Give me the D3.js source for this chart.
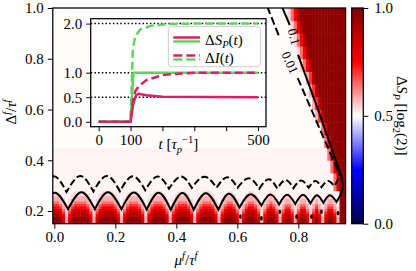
<!DOCTYPE html>
<html>
<head>
<meta charset="utf-8">
<script src="https://cdn.jsdelivr.net/npm/d3@7/dist/d3.min.js"></script>
<style>
  body { margin: 0; background: #ffffff; }
</style>
</head>
<body>
<script>
// Heat map values (Delta S_P in log2 units).
// One string per row of cells, bottom to top. Each digit is an index into
// heatLevels, "c*n" means digit c repeated n times. Columns are mu = 0, 0.01, ...
var heatLevels = [0.503, 0.51, 0.54, 0.58, 0.64, 0.70, 0.76, 0.83, 0.90, 0.97];
var heatColStart = 0, heatColStep = 0.01;
var heatRowEdges = [0.15, 0.16, 0.17, 0.18, 0.19, 0.20, 0.21, 0.22, 0.23, 0.24, 0.25,
    0.26, 0.27, 0.28, 0.29, 0.30, 0.31, 0.32, 0.33, 0.34, 0.35,
    0.375, 0.40, 0.425, 0.45, 0.475, 0.50, 0.525, 0.55, 0.575, 0.60, 0.625, 0.65,
    0.675, 0.70, 0.725, 0.75, 0.775, 0.80, 0.825, 0.85, 0.875, 0.90, 0.925, 0.95, 0.975, 1.0];
var heatRows = [
    "9998 3 89999998 3 89999998 3 8999998 3 8999998 3 8999998 3 8999998 3 899998 3 899998 3 89998 3 8998 3 8998 3 898 3 8998 3 99",
    "9997 3 79999997 3 79999997 3 7999997 3 7999997 3 7999997 3 7999997 3 799997 3 799997 3 79997 3 7997 3 7997 3 797 3 7997 3 99",
    "9987 3 78999987 3 78999987 3 7899987 3 7899987 3 7899987 3 7899987 3 789987 3 789987 3 78987 3 7887 3 7887 3 787 3 7887 3 99",
    "8886 2 68888886 2 68888886 2 6888886 2 6888886 2 6888886 2 6888886 2 688886 2 688886 2 68886 2 6886 2 6886 2 686 2 6886 2 99",
    "8875 2 57888875 2 57888875 2 5788875 2 5788875 2 5788875 2 5788875 2 578875 2 578875 2 57875 2 5775 2 5775 2 575 2 5775 2 99",
    "7764 2 46777764 2 46777764 2 4677764 2 4677764 2 4677764 2 4677764 2 467764 2 467764 2 46764 2 4664 2 4664 2 464 2 4664 2 99",
    "6653 2 35666653 2 35666653 2 3566653 2 3566653 2 3566653 2 3566653 2 356653 2 356653 2 35653 2 3553 2 3553 2 353 2 3553 2 99",
    "5543 1 34555543 1 34555543 1 3455543 1 3455543 1 3455543 1 3455543 1 345543 1 345543 1 34543 1 3443 1 3443 1 343 1 3443 1 99",
    "4432 1 23444432 1 23444432 1 2344432 1 2344432 1 2344432 1 2344432 1 234432 1 234432 1 23432 1 2332 1 2332 1 232 1 2332 1 99",
    "3332 1 23333332 1 23333332 1 2333332 1 2333332 1 2333332 1 2333332 1 233332 1 233332 1 23332 1 2332 1 2332 1 232 1 2332 1 99",
    "3321 1 12333321 1 12333321 1 1233321 1 1233321 1 1233321 1 1233321 1 123321 1 123321 1 12321 1 1221 1 1221 1 121 1 1221 1 99",
    "2221 1 12222221 1 12222221 1 1222221 1 1222221 1 1222221 1 1222221 1 122221 1 122221 1 12221 1 1221 1 1221 1 121 1 1221 1 99",
    "2211 1 11222211 1 11222211 1 1122211 1 1122211 1 1122211 1 1122211 1 112211 1 112211 1 11211 1 1111 1 1111 1 111 1 1111 1 99",
    "1*91 147 9*2", "1*91 147 9*2", "1*91 147 9*2", "1*91 147 9*2",
    "1*91 147 9*2", "1*91 147 9*2", "1*91 147 9*2",
    "1*90 147 9*3", "1*90 147 9*3", "1*89 147 9*4", "1*89 147 9*4",
    "0*88 147 9*5", "0*88 147 9*5", "0*87 147 9*6", "0*87 147 9*6",
    "0*85 1358 9*7", "0*85 1358 9*7", "0*84 1358 9*8", "0*84 1358 9*8",
    "0*83 1358 9*9", "0*83 1358 9*9", "0*82 1358 9*10", "0*82 1358 9*10",
    "0*80 12468 9*11", "0*80 12468 9*11", "0*79 12468 9*12", "0*79 12468 9*12",
    "0*78 12468 9*13", "0*78 12468 9*13", "0*77 12468 9*14", "0*77 12468 9*14",
    "0*76 12468 9*15", "0*76 12468 9*15"
];

// Contour lines as [mu, Delta]: band arches alternate cusp / top
var solidBand = [[-0.043, 0.207], [0.001, 0.272], [0.045, 0.207], [0.089, 0.274], [0.133, 0.207],
    [0.176, 0.274], [0.220, 0.207], [0.261, 0.273], [0.303, 0.206], [0.342, 0.272], [0.382, 0.205],
    [0.420, 0.271], [0.457, 0.205], [0.497, 0.270], [0.538, 0.205], [0.572, 0.268], [0.607, 0.214],
    [0.643, 0.266], [0.679, 0.222], [0.708, 0.265], [0.737, 0.226], [0.763, 0.264], [0.790, 0.228],
    [0.815, 0.264], [0.840, 0.230], [0.861, 0.262], [0.882, 0.232], [0.903, 0.262], [0.925, 0.236],
    [0.941, 0.270], [0.947, 0.300]];
var dashBand = [[-0.047, 0.275], [-0.002, 0.337], [0.040, 0.275], [0.085, 0.338], [0.128, 0.277],
    [0.172, 0.338], [0.215, 0.278], [0.257, 0.337], [0.298, 0.282], [0.338, 0.336], [0.376, 0.288],
    [0.415, 0.336], [0.451, 0.291], [0.492, 0.335], [0.532, 0.292], [0.567, 0.333], [0.601, 0.292],
    [0.638, 0.329], [0.672, 0.288], [0.703, 0.325], [0.731, 0.288], [0.758, 0.322], [0.784, 0.290],
    [0.809, 0.320], [0.834, 0.292], [0.856, 0.318], [0.876, 0.294], [0.897, 0.318], [0.918, 0.298],
    [0.930, 0.325], [0.934, 0.345]];
var solidDiag = [[[0.746, 1.006], [0.772, 0.933]],
    [[0.799, 0.815], [0.859, 0.618], [0.913, 0.434], [0.941, 0.335], [0.947, 0.300]]];
var dashDiag = [[[0.698, 1.006], [0.739, 0.882]],
    [[0.798, 0.724], [0.903, 0.433], [0.929, 0.360], [0.934, 0.345]]];
var contourDots = [[0.610, 0.178], [0.679, 0.171], [0.739, 0.197], [0.794, 0.178],
    [0.843, 0.178], [0.876, 0.197], [0.930, 0.191]];
var contourLabels = ["0.1", "0.01"];
var contourLabelMu = [0.786, 0.773];
var contourLabelDelta = [0.887, 0.785];

// main axes and colour bar ticks
var xTicks = [0, 0.2, 0.4, 0.6, 0.8];
var yTicks = [0.2, 0.4, 0.6, 0.8, 1.0];
var colorbarTicks = [0, 0.5, 1.0];

// inset: time traces
var insetXTicks = [0, 100, 200, 300, 400, 500];
var insetXLabels = ["0", "100", "", "", "", "500"];
var insetYTicks = [0, 0.5, 1.0, 2.0];
var insetGuides = [0.5, 1.0, 2.0];
var tSpPink = [0, 100, 108, 117, 125, 150, 200, 500];
var spPink = [0, 0, 0.35, 0.54, 0.57, 0.54, 0.51, 0.50];
var tSpGreen = [0, 100, 109, 500];
var spGreen = [0, 0, 1.0, 1.0];
var tIPink = [0, 100, 108, 115, 125, 150, 200, 250, 300, 400, 500];
var iPink = [0, 0, 0.45, 0.62, 0.72, 0.85, 0.95, 0.98, 1.0, 1.0, 1.0];
var tIGreen = [0, 100, 104, 107, 114, 130, 162, 215, 300, 500];
var iGreen = [0, 0, 0.8, 1.46, 1.73, 1.88, 1.95, 1.99, 2.0, 2.0];

var pink = "#dc1e64", green = "#5fd35f";

function mathText(textSel, parts, size) {
    // simple super/subscripts with tspans
    var cur = 0;
    parts.forEach(function (p) {
        var shift = p.sup ? -0.4 * size : (p.sub ? 0.25 * size : 0);
        textSel.append("tspan")
            .attr("dy", shift - cur)
            .attr("font-size", (p.sup || p.sub) ? size * 0.7 : size)
            .attr("font-style", p.it ? "italic" : "normal")
            .text(p.t);
        cur = shift;
    });
}

function drawChart() {
    var width = 416, height = 271;
    var left = 52.8, right = 345.6, top = 8, bottom = 223.7;
    var fs = 15;
    var serif = "'Liberation Serif', 'DejaVu Serif', serif";

    var svg = d3.select("body").append("svg")
        .attr("width", width).attr("height", height)
        .attr("font-family", serif);

    var x = d3.scaleLinear().domain([-0.005, 0.955]).range([left, right]);
    var y = d3.scaleLinear().domain([0.15, 1.0]).range([bottom, top]);
    // matplotlib "seismic"
    var color = d3.scaleLinear().domain([0, 0.25, 0.5, 0.75, 1])
        .range(["#00004d", "#0000ff", "#ffffff", "#ff0000", "#800000"]);

    var defs = svg.append("defs");
    defs.append("clipPath").attr("id", "plotArea").append("rect")
        .attr("x", left).attr("y", top).attr("width", right - left).attr("height", bottom - top);

    var plotGroup = svg.append("g").attr("clip-path", "url(#plotArea)");

    // heat map cells
    var cells = [];
    heatRows.forEach(function (row, r) {
        var levels = [];
        row.split(" ").forEach(function (tok) {
            var i;
            if (tok.indexOf("*") > 0) {
                var p = tok.split("*");
                for (i = 0; i < +p[1]; i++) levels.push(+p[0]);
            } else {
                for (i = 0; i < tok.length; i++) levels.push(+tok[i]);
            }
        });
        levels.forEach(function (lv, j) {
            var mu = heatColStart + j * heatColStep;
            cells.push({ mu0: mu - heatColStep / 2, mu1: mu + heatColStep / 2,
                d0: heatRowEdges[r], d1: heatRowEdges[r + 1], value: heatLevels[lv] });
        });
    });
    plotGroup.selectAll("rect.cell").data(cells).enter()
        .append("rect")
        .attr("class", "cell")
        .attr("x", function (d) { return x(d.mu0); })
        .attr("y", function (d) { return y(d.d1); })
        .attr("width", function (d) { return x(d.mu1) - x(d.mu0) + 0.5; })
        .attr("height", function (d) { return y(d.d0) - y(d.d1) + 0.5; })
        .attr("fill", function (d) { return color(d.value); });

    // contour lines
    var archLine = d3.line()
        .x(function (d) { return x(d[0]); })
        .y(function (d) { return y(d[1]); })
        .curve(d3.curveNatural);
    var plainLine = d3.line()
        .x(function (d) { return x(d[0]); })
        .y(function (d) { return y(d[1]); });
    function archPath(pts) {
        var s = "";
        for (var i = 0; i + 2 < pts.length; i += 2) {
            var piece = archLine([pts[i], pts[i + 1], pts[i + 2]]);
            s += i ? piece.replace(/^M[^C]*/, "") : piece;
        }
        return s;
    }
    plotGroup.append("path").attr("d", archPath(solidBand))
        .attr("fill", "none").attr("stroke", "#000").attr("stroke-width", 2);
    plotGroup.append("path").attr("d", archPath(dashBand))
        .attr("fill", "none").attr("stroke", "#000").attr("stroke-width", 2)
        .attr("stroke-dasharray", "7,3");
    plotGroup.selectAll("path.sdiag").data(solidDiag).enter().append("path")
        .attr("class", "sdiag").attr("d", plainLine)
        .attr("fill", "none").attr("stroke", "#000").attr("stroke-width", 2);
    plotGroup.selectAll("path.ddiag").data(dashDiag).enter().append("path")
        .attr("class", "ddiag").attr("d", plainLine)
        .attr("fill", "none").attr("stroke", "#000").attr("stroke-width", 2)
        .attr("stroke-dasharray", "8,3.5");
    plotGroup.selectAll("ellipse.dot").data(contourDots).enter().append("ellipse")
        .attr("class", "dot")
        .attr("cx", function (d) { return x(d[0]); })
        .attr("cy", function (d) { return y(d[1]); })
        .attr("rx", 1.3).attr("ry", 2.3).attr("fill", "#000");
    var labelAngles = [74, 66];
    contourLabels.forEach(function (txt, i) {
        plotGroup.append("text")
            .attr("transform", "translate(" + x(contourLabelMu[i]) + "," + y(contourLabelDelta[i]) + ") rotate(" + labelAngles[i] + ")")
            .attr("text-anchor", "middle").attr("dy", "0.35em")
            .attr("font-size", 13).text(txt);
    });

    // main axes
    var xAxis = d3.axisBottom(x).tickValues(xTicks).tickFormat(d3.format(".1f"))
        .tickSize(5).tickSizeOuter(0).tickPadding(3);
    var yAxis = d3.axisLeft(y).tickValues(yTicks).tickFormat(d3.format(".1f"))
        .tickSize(5).tickSizeOuter(0).tickPadding(4);
    var gx = svg.append("g").attr("transform", "translate(0," + bottom + ")").call(xAxis);
    var gy = svg.append("g").attr("transform", "translate(" + left + ",0)").call(yAxis);
    [gx, gy].forEach(function (g) {
        g.attr("font-size", fs).attr("font-family", serif).attr("color", "#000");
        g.select(".domain").remove();
    });
    svg.append("rect").attr("x", left).attr("y", top)
        .attr("width", right - left).attr("height", bottom - top)
        .attr("fill", "none").attr("stroke", "#000").attr("stroke-width", 1.25);

    mathText(svg.append("text").attr("x", 186).attr("y", 265).attr("text-anchor", "middle"),
        [{ t: "\u03bc", it: true }, { t: "f", it: true, sup: true }, { t: "/" },
         { t: "\u03c4", it: true }, { t: "f", it: true, sup: true }], fs);
    mathText(svg.append("text").attr("transform", "translate(16,112) rotate(-90)").attr("text-anchor", "middle"),
        [{ t: "\u0394" }, { t: "f", it: true, sup: true }, { t: "/" },
         { t: "\u03c4", it: true }, { t: "f", it: true, sup: true }], fs);

    // colour bar
    var cbLeft = 351.7, cbRight = 363.3;
    var cy = d3.scaleLinear().domain([0, 1]).range([bottom, top]);
    var grad = defs.append("linearGradient").attr("id", "seismic")
        .attr("x1", 0).attr("y1", 1).attr("x2", 0).attr("y2", 0);
    grad.selectAll("stop").data(color.domain()).enter().append("stop")
        .attr("offset", function (d) { return d; })
        .attr("stop-color", function (d) { return color(d); });
    svg.append("rect").attr("x", cbLeft).attr("y", top)
        .attr("width", cbRight - cbLeft).attr("height", bottom - top)
        .attr("fill", "url(#seismic)").attr("stroke", "#000").attr("stroke-width", 1.25);
    var cAxis = d3.axisRight(cy).tickValues(colorbarTicks).tickFormat(d3.format(".1f"))
        .tickSize(5).tickSizeOuter(0).tickPadding(6);
    var gc = svg.append("g").attr("transform", "translate(" + cbRight + ",0)").call(cAxis);
    gc.attr("font-size", fs).attr("font-family", serif).attr("color", "#000");
    gc.select(".domain").remove();
    mathText(svg.append("text").attr("transform", "translate(397," + ((top + bottom) / 2) + ") rotate(90)")
            .attr("text-anchor", "middle"),
        [{ t: "\u0394" }, { t: "S", it: true }, { t: "P", it: true, sub: true },
         { t: " [log" }, { t: "2", sub: true }, { t: "(2)]" }], fs);

    // inset
    var iLeft = 90.7, iRight = 266, iTop = 18.7, iBottom = 126.7;
    var ix = d3.scaleLinear().domain([-25, 525]).range([iLeft, iRight]);
    var iy = d3.scaleLinear().domain([-0.1, 2.1]).range([iBottom, iTop]);
    var inset = svg.append("g");
    inset.append("rect").attr("x", iLeft).attr("y", iTop)
        .attr("width", iRight - iLeft).attr("height", iBottom - iTop).attr("fill", "#fff");
    inset.selectAll("line.guide").data(insetGuides).enter().append("line")
        .attr("class", "guide")
        .attr("x1", iLeft).attr("x2", iRight)
        .attr("y1", function (d) { return iy(d); }).attr("y2", function (d) { return iy(d); })
        .attr("stroke", "#000").attr("stroke-width", 1.5).attr("stroke-dasharray", "1.5,2.2");

    function trace(ts, vs) {
        return ts.map(function (t, i) { return [t, vs[i]]; });
    }
    var traceLine = d3.line()
        .x(function (d) { return ix(d[0]); })
        .y(function (d) { return iy(d[1]); });
    var traces = [
        { pts: trace(tSpGreen, spGreen), c: green, dash: null },
        { pts: trace(tSpPink, spPink), c: pink, dash: null },
        { pts: trace(tIGreen, iGreen), c: green, dash: "8,4" },
        { pts: trace(tIPink, iPink), c: pink, dash: "8,4" }
    ];
    inset.selectAll("path.trace").data(traces).enter().append("path")
        .attr("class", "trace")
        .attr("d", function (d) { return traceLine(d.pts); })
        .attr("fill", "none")
        .attr("stroke", function (d) { return d.c; })
        .attr("stroke-width", 2.5)
        .attr("stroke-dasharray", function (d) { return d.dash; });

    var ixAxis = d3.axisBottom(ix).tickValues(insetXTicks)
        .tickFormat(function (d, i) { return insetXLabels[i]; })
        .tickSize(4.5).tickSizeOuter(0).tickPadding(3);
    var iyAxis = d3.axisLeft(iy).tickValues(insetYTicks).tickFormat(d3.format(".1f"))
        .tickSize(4.5).tickSizeOuter(0).tickPadding(4);
    var gix = inset.append("g").attr("transform", "translate(0," + iBottom + ")").call(ixAxis);
    var giy = inset.append("g").attr("transform", "translate(" + iLeft + ",0)").call(iyAxis);
    [gix, giy].forEach(function (g) {
        g.attr("font-size", fs).attr("font-family", serif).attr("color", "#000");
        g.select(".domain").remove();
    });
    inset.append("rect").attr("x", iLeft).attr("y", iTop)
        .attr("width", iRight - iLeft).attr("height", iBottom - iTop)
        .attr("fill", "none").attr("stroke", "#000").attr("stroke-width", 1.25);
    mathText(inset.append("text").attr("x", (iLeft + iRight) / 2).attr("y", 149.3).attr("text-anchor", "middle"),
        [{ t: "t", it: true }, { t: " [" }, { t: "\u03c4", it: true }, { t: "p", it: true, sub: true },
         { t: "\u22121", sup: true }, { t: "]" }], fs);

    // legend
    var legend = inset.append("g");
    legend.append("rect").attr("x", 168.3).attr("y", 26.7).attr("width", 92).attr("height", 40)
        .attr("rx", 3).attr("fill", "#fff").attr("stroke", "#cccccc").attr("stroke-width", 1);
    var legendRows = [
        { y: 39.5, dash: null, parts: [{ t: "\u0394" }, { t: "S", it: true }, { t: "P", it: true, sub: true }, { t: "(" }, { t: "t", it: true }, { t: ")" }] },
        { y: 57.5, dash: "9,4", parts: [{ t: "\u0394" }, { t: "I", it: true }, { t: "(" }, { t: "t", it: true }, { t: ")" }] }
    ];
    legendRows.forEach(function (row) {
        [[pink, -2], [green, 2]].forEach(function (s) {
            legend.append("line").attr("x1", 173.3).attr("x2", 200)
                .attr("y1", row.y + s[1]).attr("y2", row.y + s[1])
                .attr("stroke", s[0]).attr("stroke-width", 2.5)
                .attr("stroke-dasharray", row.dash);
        });
        mathText(legend.append("text").attr("x", 205).attr("y", row.y + 5), row.parts, fs);
    });
}

drawChart();
</script>
</body>
</html>
